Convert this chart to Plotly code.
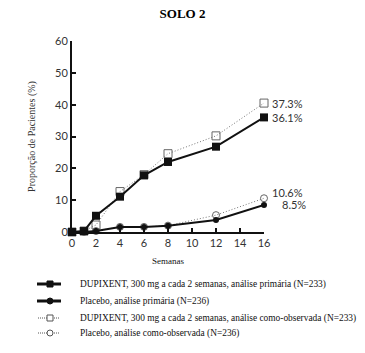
import plotly.graph_objects as go

weeks = [0, 1, 2, 4, 6, 8, 12, 16]
dup_primary = [0, 0.3, 5.1, 11.1, 17.8, 22.0, 26.8, 36.0]
pbo_primary = [0, 0, 0.3, 1.6, 1.6, 2.0, 3.8, 8.5]
dup_observed = [0, 0.3, 2.2, 12.7, 18.0, 24.6, 30.2, 40.5]
pbo_observed = [0, 0, 0.3, 1.6, 1.6, 2.0, 5.3, 10.6]

names = [
    "DUPIXENT, 300 mg a cada 2 semanas, análise primária (N=233)",
    "Placebo, análise primária (N=236)",
    "DUPIXENT, 300 mg a cada 2 semanas, análise como-observada (N=233)",
    "Placebo, análise como-observada (N=236)",
]
end_labels = ["37.3%", "36.1%", "10.6%", "8.5%"]
end_values = [dup_observed[-1], dup_primary[-1], pbo_observed[-1], pbo_primary[-1]]
end_yshift = [0, 0, 6, 0]
end_xshift = [6, 6, 6, 16]

W, H = 365, 353
L, R, T, B = 72, 101, 41, 121
PW, PH = W - L - R, H - T - B

def px(x):
    return (x - L) / PW

def py(y):
    return (H - B - y) / PH

DOT = "1px,2px"

fig = go.Figure()
fig.add_trace(go.Scatter(x=weeks, y=dup_observed, name=names[2],
    mode="lines+markers", cliponaxis=False,
    line=dict(color="#777777", width=1, dash=DOT),
    marker=dict(symbol="square-open", size=8, color="#666666", line=dict(width=1))))
fig.add_trace(go.Scatter(x=weeks, y=pbo_observed, name=names[3],
    mode="lines+markers", cliponaxis=False,
    line=dict(color="#777777", width=1, dash=DOT),
    marker=dict(symbol="circle-open", size=7, color="#666666", line=dict(width=1))))
fig.add_trace(go.Scatter(x=weeks, y=dup_primary, name=names[0],
    mode="lines+markers", cliponaxis=False,
    line=dict(color="#111111", width=2),
    marker=dict(symbol="square", size=8, color="#111111")))
fig.add_trace(go.Scatter(x=weeks, y=pbo_primary, name=names[1],
    mode="lines+markers", cliponaxis=False,
    line=dict(color="#111111", width=2),
    marker=dict(symbol="circle", size=6, color="#111111")))

for lab, v, ys, xs in zip(end_labels, end_values, end_yshift, end_xshift):
    fig.add_annotation(x=weeks[-1], y=v, text=lab, showarrow=False,
                       xanchor="left", xshift=xs, yshift=ys,
                       font=dict(family="Lato, sans-serif", size=11, color="#333333"))

# manual legend (rows compact like the reference)
rows_y = [284, 301, 318, 333]
styles = [
    dict(color="#111111", width=3, dash="solid", sym="rect", fill="#111111", s=3, x0=37, x1=61),
    dict(color="#111111", width=3, dash="solid", sym="circle", fill="#111111", s=3, x0=37, x1=61),
    dict(color="#555555", width=1, dash="1px,1px", sym="rect", fill="white", s=3, x0=38, x1=60),
    dict(color="#555555", width=1, dash="1px,1px", sym="circle", fill="white", s=3, x0=38, x1=60),
]
shapes = []
for name, ry, st in zip(names, rows_y, styles):
    shapes.append(dict(type="line", xref="paper", yref="paper",
                       x0=px(st["x0"]), x1=px(st["x1"]), y0=py(ry), y1=py(ry),
                       line=dict(color=st["color"], width=st["width"], dash=st["dash"])))
    s = st["s"]
    shapes.append(dict(type=st["sym"], xref="paper", yref="paper",
                       x0=px(50 - s), x1=px(50 + s), y0=py(ry - s), y1=py(ry + s),
                       fillcolor=st["fill"], line=dict(color=st["color"], width=1)))
    fig.add_annotation(xref="paper", yref="paper", x=px(78), y=py(ry), text=name,
                       showarrow=False, xanchor="left", yanchor="middle",
                       font=dict(family="Liberation Serif, serif", size=9.4, color="#111111"))

fig.update_layout(
    width=W, height=H, showlegend=False, shapes=shapes,
    margin=dict(l=L, r=R, t=T, b=B, autoexpand=False),
    paper_bgcolor="white", plot_bgcolor="white",
    title=dict(text="<b>SOLO 2</b>", x=0.5, xref="container", y=0.963, yref="container",
               xanchor="center", yanchor="middle",
               font=dict(family="Liberation Serif, serif", size=13, color="black")),
    xaxis=dict(range=[0, 16], tickvals=[0, 2, 4, 6, 8, 10, 12, 14, 16],
               showgrid=False, zeroline=False, showline=True, linecolor="#111111",
               linewidth=2, ticks="inside", ticklen=4, tickwidth=2, tickcolor="#111111",
               tickfont=dict(family="Lato, sans-serif", size=11, color="#333333"),
               title=dict(text="Semanas", standoff=9,
                          font=dict(family="Liberation Serif, serif", size=9, color="#111111"))),
    yaxis=dict(range=[0, 60], tickvals=[0, 10, 20, 30, 40, 50, 60],
               showgrid=False, zeroline=False, showline=True, linecolor="#111111",
               linewidth=2, ticks="inside", ticklen=4, tickwidth=2, tickcolor="#111111",
               tickfont=dict(family="Lato, sans-serif", size=11, color="#333333"),
               title=dict(text="Proporção de Pacientes (%)", standoff=18,
                          font=dict(family="Liberation Serif, serif", size=10, color="#333333"))),
)
fig.write_html("out.html")
